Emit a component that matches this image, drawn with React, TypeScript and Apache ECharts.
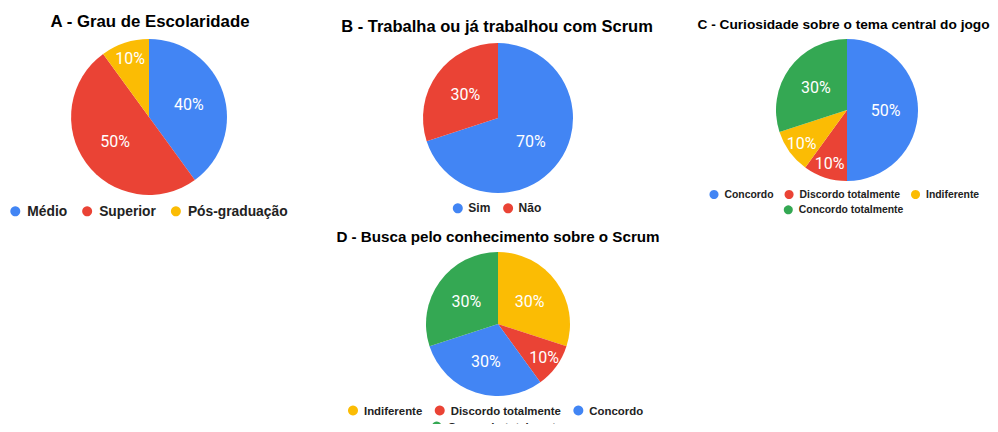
import React, { useEffect, useRef } from "react";
import * as echarts from "echarts";

// ---- data ----
const titleA = "A - Grau de Escolaridade";
const catsA = ["Médio", "Superior", "Pós-graduação"];
const valsA = [4, 5, 1];

const titleB = "B - Trabalha ou já trabalhou com Scrum";
const catsB = ["Sim", "Não"];
const valsB = [7, 3];

const titleC = "C - Curiosidade sobre o tema central do jogo";
const catsC = ["Concordo", "Discordo totalmente", "Indiferente", "Concordo totalmente"];
const valsC = [5, 1, 1, 3];

const titleD = "D - Busca pelo conhecimento sobre o Scrum";
const catsD = ["Indiferente", "Discordo totalmente", "Concordo", "Concordo totalmente"];
const valsD = [3, 1, 3, 3];

// ---- styles ----
const BLUE = "#4285F4";
const RED = "#EA4335";
const YELLOW = "#FBBC04";
const GREEN = "#34A853";
const colorOf: Record<string, string> = {
  "Médio": BLUE,
  "Superior": RED,
  "Pós-graduação": YELLOW,
  "Sim": BLUE,
  "Não": RED,
  "Concordo": BLUE,
  "Discordo totalmente": RED,
  "Indiferente": YELLOW,
  "Concordo totalmente": GREEN,
};
const LABEL_FONT = "Roboto, 'Liberation Sans', Arial, sans-serif";
const TEXT_FONT = "'Liberation Sans', Arial, Helvetica, sans-serif";

function pieSeries(cats: string[], vals: number[], center: number[], r: number) {
  const total = vals.reduce((a, b) => a + b, 0);
  const fmt = (p: any) => Math.round(p.percent) + "%";
  const labelStyle = {
    position: "inside",
    formatter: fmt,
    color: "#ffffff",
    fontFamily: LABEL_FONT,
    fontSize: 16,
    fontWeight: "normal",
  };
  const main = {
    type: "pie",
    center,
    radius: [0, r],
    startAngle: 90,
    clockwise: true,
    avoidLabelOverlap: false,
    label: { show: true, ...labelStyle },
    labelLine: { show: false },
    itemStyle: { borderWidth: 0 },
    emphasis: { disabled: true },
    data: cats.map((n, i) => ({
      name: n,
      value: vals[i],
      itemStyle: { color: colorOf[n] },
      label: { show: vals[i] / total >= 0.15 },
    })),
  };
  const overlay = {
    type: "pie",
    center,
    radius: [r * 0.5, r],
    startAngle: 90,
    clockwise: true,
    silent: true,
    legendHoverLink: false,
    avoidLabelOverlap: false,
    label: { show: true, ...labelStyle },
    labelLine: { show: false },
    itemStyle: { color: "rgba(0,0,0,0)", borderWidth: 0 },
    emphasis: { disabled: true },
    data: cats.map((n, i) => ({
      name: n,
      value: vals[i],
      label: { show: vals[i] / total < 0.15 },
    })),
  };
  return { main, overlay };
}

// firstIconX: centre x of the first legend dot
function legend(
  names: string[],
  firstIconX: number,
  centerY: number,
  fontSize: number,
  dot: number,
  boxW: number,
  gap: number
) {
  const lh = Math.ceil(fontSize) + 1;
  return {
    data: names,
    left: firstIconX - boxW / 2,
    top: centerY - lh / 2,
    orient: "horizontal",
    padding: 0,
    itemGap: gap,
    itemWidth: boxW,
    itemHeight: dot,
    icon: "circle",
    selectedMode: false,
    textStyle: {
      fontFamily: TEXT_FONT,
      fontSize,
      fontWeight: "bold",
      color: "#222222",
      lineHeight: lh,
    },
  };
}

function title(text: string, x: number, y: number, size: number) {
  return {
    type: "text",
    x,
    y,
    style: {
      text,
      font: `bold ${size}px ${TEXT_FONT}`,
      fill: "#000000",
      align: "center",
      verticalAlign: "middle",
      textAlign: "center",
      textVerticalAlign: "middle",
    },
  };
}

export default function App() {
  const ref = useRef<HTMLDivElement>(null);
  useEffect(() => {
    if (!ref.current) return;
    const chart = echarts.init(ref.current, undefined, { renderer: "svg" });
    const A = pieSeries(catsA, valsA, [149, 117], 78);
    const B = pieSeries(catsB, valsB, [498, 118], 75);
    const C = pieSeries(catsC, valsC, [847, 110], 71);
    const D = pieSeries(catsD, valsD, [498, 324], 72);
    chart.setOption({
      animation: false,
      backgroundColor: "#ffffff",
      graphic: [
        title(titleA, 150, 21, 16.8),
        title(titleB, 497, 25.5, 16.5),
        title(titleC, 843.5, 24, 13.7),
        title(titleD, 498, 236, 15.2),
      ],
      legend: [
        legend(catsA, 17.3, 211.3, 13.8, 10, 14, 15),
        legend(catsB, 458.3, 208.3, 12, 10, 11, 12.8),
        legend(catsC.slice(0, 3), 715, 194.5, 10.4, 9, 11, 11),
        legend(catsC.slice(3), 789.3, 209.8, 10.4, 9, 11, 11),
        legend(catsD.slice(0, 3), 354, 410.5, 11.4, 10, 12, 12.5),
        legend(catsD.slice(3), 437.7, 426.6, 11.4, 10, 12, 12),
      ],
      series: [A.main, B.main, C.main, D.main, A.overlay, B.overlay, C.overlay, D.overlay],
    });
    return () => chart.dispose();
  }, []);
  return <div ref={ref} style={{ width: 998, height: 432, margin: -8 }} />;
}
